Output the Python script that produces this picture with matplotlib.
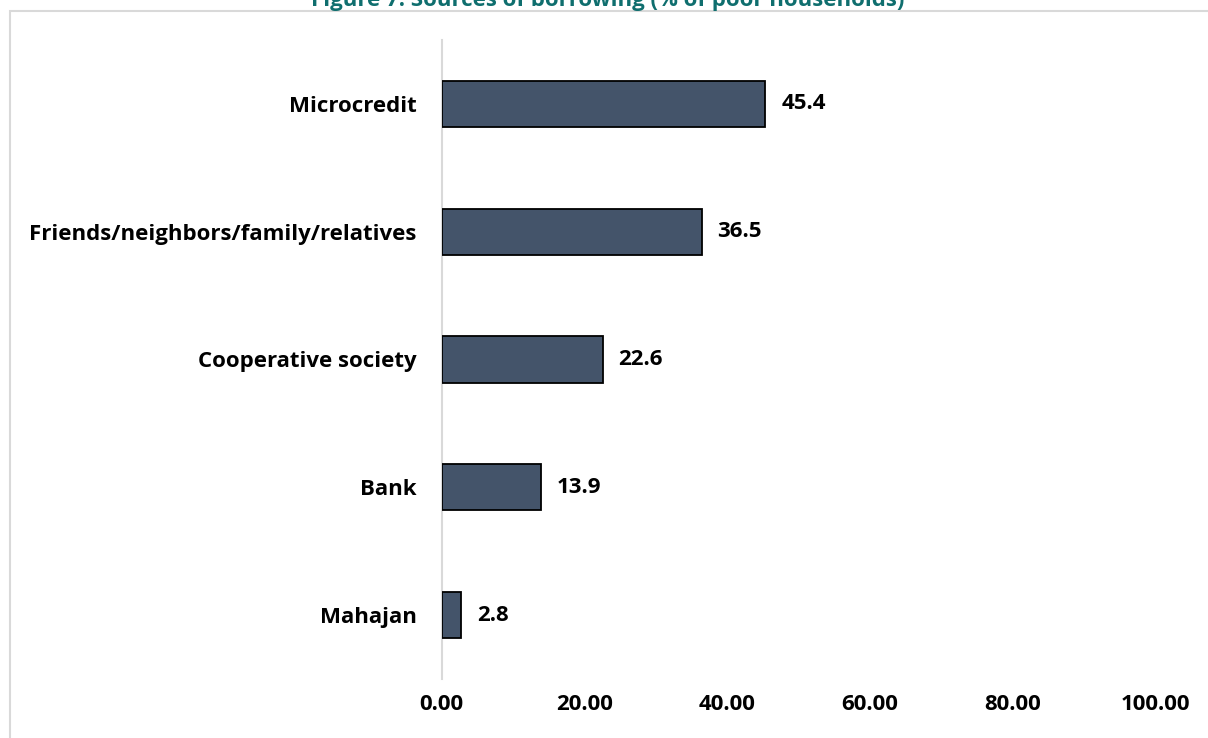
import matplotlib.pyplot as plt
from matplotlib.patches import Rectangle

# Sources of borrowing, share of poor households (%)
sources = ["Microcredit", "Friends/neighbors/family/relatives",
           "Cooperative society", "Bank", "Mahajan"]
shares = [45.4, 36.5, 22.6, 13.9, 2.8]
xticks = [0, 20, 40, 60, 80, 100]

plt.rcParams['font.family'] = ['Open Sans', 'DejaVu Sans']
plt.rcParams['font.weight'] = 'bold'

W, H = 1208, 738
fig = plt.figure(figsize=(W / 100, H / 100), dpi=100)
ax = fig.add_axes([441.5 / W, 1 - 679 / H, (1155 - 441.5) / W, 639 / H])

ypos = list(range(len(sources)))[::-1]
bars = ax.barh(ypos, shares, height=0.36, color='#44546A',
               edgecolor='black', linewidth=1.3, zorder=3)
for y, v in zip(ypos, shares):
    ax.text(v + 2.2, y, f"{v:.1f}", va='center', ha='left',
            fontsize=16, fontweight='bold', color='black')

ax.set_xlim(0, 100)
ax.set_ylim(-0.5, len(sources) - 0.5)
ax.set_yticks(ypos)
ax.set_yticklabels(sources, fontsize=16, fontweight='bold')
ax.set_xticks(xticks)
ax.set_xticklabels([f"{t:.2f}" for t in xticks], fontsize=16, fontweight='bold')
ax.tick_params(axis='y', length=0, pad=18)
ax.tick_params(axis='x', length=0, pad=11)

for s in ['top', 'right', 'bottom']:
    ax.spines[s].set_visible(False)
ax.spines['left'].set_color('#D9D9D9')
ax.spines['left'].set_linewidth(1.5)

# chart area border
fig.patches.append(Rectangle((10 / W, -0.2), 1.2, 1.2 - 11 / H,
                             transform=fig.transFigure, fill=False,
                             edgecolor='#D9D9D9', linewidth=1.5))

fig.text(608 / W, 1 - 6 / H, "Figure 7: Sources of borrowing (% of poor households)",
         ha='center', va='baseline', fontsize=16, fontweight='bold', color='#0F6E6E')

fig.savefig('out.png', dpi=100)
